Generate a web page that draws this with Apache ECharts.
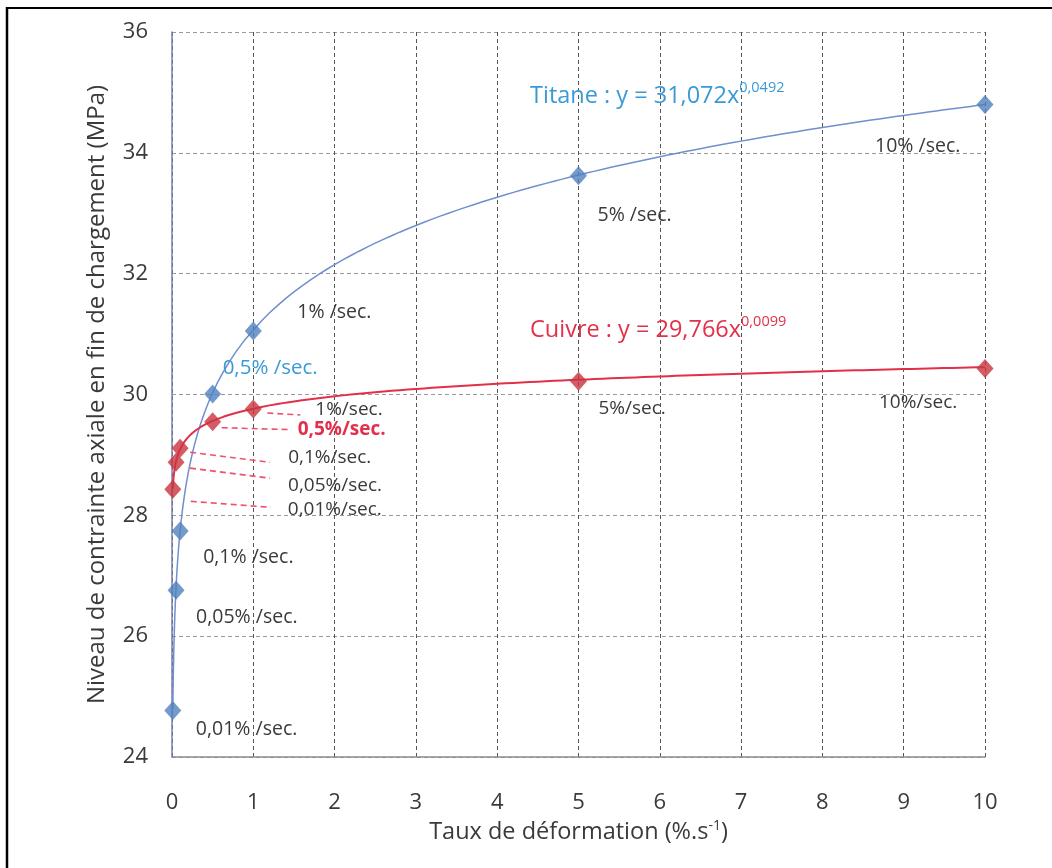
<!DOCTYPE html>
<html>
<head>
<meta charset="utf-8">
<script src="https://cdn.jsdelivr.net/npm/echarts@6/dist/echarts.min.js"></script>
<style>
  html, body { margin: 0; padding: 0; background: #ffffff; }
  #chart { width: 1052px; height: 868px; }
</style>
</head>
<body>
<div id="chart"></div>
<script>
// Strain rates tested (%/s) and end-of-loading axial stress (MPa)
const rates = [0.01, 0.05, 0.1, 0.5, 1, 5, 10];
const titaneStress = [24.77, 26.76, 27.74, 30.01, 31.05, 33.62, 34.80];
const cuivreStress = [28.43, 28.88, 29.11, 29.55, 29.76, 30.22, 30.43];

// Point annotations
const titaneLabels = ['0,01% /sec.', '0,05% /sec.', '0,1% /sec.', '0,5% /sec.', '1% /sec.', '5% /sec.', '10% /sec.'];
const cuivreLabels = ['0,01%/sec.', '0,05%/sec.', '0,1%/sec.', '0,5%/sec.', '1%/sec.', '5%/sec.', '10%/sec.'];

// Power-law fits y = a * x^b
const titaneFit = [31.072, 0.0492];
const cuivreFit = [29.766, 0.0099];

// Axis ticks
const xTicks = [0, 1, 2, 3, 4, 5, 6, 7, 8, 9, 10];
const yTicks = [24, 26, 28, 30, 32, 34, 36];

// Label placement (pixels from the marker: left edge dx, vertical centre dy)
const titaneLabelOffsets = [[23, 19], [20, 27], [23, 26], [10, -26], [44, -19], [19, 40], [-110, 42]];
const cuivreLabelOffsets = [[115, 20], [112, 23], [108, 9], [85, 8], [62, 1], [20, 27], [-106, 34]];
// Dashed leader lines for the crowded copper points: [start dx, dy, end dx, dy]
const cuivreLeaders = [[18, 12, 98, 18], [14, 6, 94, 16], [10, 4, 90, 14], [9, 6, 79, 8], [14, 4, 47, 6]];

const FONT = '"Open Sans", Lato, "DejaVu Sans", sans-serif';
const TEXT = '#3a3a3a';
const BLUE = '#4f81bd';
const BLUE_LINE = '#6f8fcf';
const RED = '#c9353f';
const RED_LINE = '#e2304a';
const EQ_BLUE = '#3a9ad8';

const fmt = v => String(v).replace('.', ',');

function fitCurve(fit) {
  const pts = [];
  const a = fit[0], b = fit[1];
  const xs = [];
  for (let e = -2; e <= 0; e += 0.05) xs.push(Math.pow(10, e));
  for (let x = 1.1; x <= 10.0001; x += 0.1) xs.push(x);
  xs.forEach(x => pts.push([x, a * Math.pow(x, b)]));
  return pts;
}

const chart = echarts.init(document.getElementById('chart'), null, { renderer: 'canvas' });

const option = {
  animation: false,
  backgroundColor: '#ffffff',
  grid: { left: 172, top: 32, right: 67, bottom: 111, containLabel: false },
  xAxis: {
    type: 'value',
    min: xTicks[0], max: xTicks[xTicks.length - 1], interval: 1,
    name: 'Taux de déformation (%.s{sup|-1})',
    nameLocation: 'middle',
    nameGap: 61,
    nameTextStyle: {
      fontFamily: FONT, fontSize: 23.5, color: TEXT,
      rich: { sup: { fontFamily: FONT, fontSize: 14, color: TEXT, padding: [0, 0, 13, 0] } }
    },
    axisLine: { show: true, lineStyle: { color: '#8c8c8c', width: 1.5 } },
    axisTick: { show: false },
    axisLabel: { fontFamily: FONT, fontSize: 22, color: TEXT, margin: 35 },
    splitLine: { show: true, lineStyle: { color: '#555555', type: [4, 3], width: 1 } }
  },
  yAxis: {
    type: 'value',
    min: yTicks[0], max: yTicks[yTicks.length - 1], interval: 2,
    name: 'Niveau de contrainte axiale en fin de chargement (MPa)',
    nameLocation: 'middle',
    nameGap: 63,
    nameTextStyle: { fontFamily: FONT, fontSize: 24, color: TEXT },
    axisLine: { show: true, lineStyle: { color: '#7a7fa8', width: 1.5 } },
    axisTick: { show: false },
    axisLabel: { fontFamily: FONT, fontSize: 22, color: TEXT, margin: 24 },
    splitLine: { show: true, lineStyle: { color: '#9a9a9a', type: [4, 3], width: 1 } }
  },
  series: [
    {
      name: 'Titane (courbe)', type: 'line', data: fitCurve(titaneFit),
      showSymbol: false, smooth: false, z: 2,
      lineStyle: { color: BLUE_LINE, width: 1.5 }
    },
    {
      name: 'Cuivre (courbe)', type: 'line', data: fitCurve(cuivreFit),
      showSymbol: false, smooth: false, z: 2,
      lineStyle: { color: RED_LINE, width: 2 }
    },
    {
      name: 'Titane', type: 'scatter', z: 4,
      data: rates.map((r, i) => [r, titaneStress[i]]),
      symbol: 'diamond', symbolSize: [17, 19],
      itemStyle: { color: BLUE }
    },
    {
      name: 'Cuivre', type: 'scatter', z: 4,
      data: rates.map((r, i) => [r, cuivreStress[i]]),
      symbol: 'diamond', symbolSize: [17, 19],
      itemStyle: { color: RED }
    }
  ]
};

chart.setOption(option);

// Annotations placed from the markers' pixel positions
function buildAnnotations() {
  const els = [];
  // page frame
  els.push({ type: 'line', shape: { x1: 7, y1: 8, x2: 1052, y2: 8 }, style: { stroke: '#000', lineWidth: 2 }, z: 10 });
  els.push({ type: 'line', shape: { x1: 7, y1: 7, x2: 7, y2: 868 }, style: { stroke: '#000', lineWidth: 2.5 }, z: 10 });

  rates.forEach((r, i) => {
    const p = chart.convertToPixel({ gridIndex: 0 }, [r, titaneStress[i]]);
    const o = titaneLabelOffsets[i];
    const isHalf = i === 3;
    els.push({
      type: 'text', x: p[0] + o[0], y: p[1] + o[1], z: 6,
      style: {
        text: titaneLabels[i], fontFamily: FONT, fontSize: isHalf ? 20.5 : 19.5,
        fill: isHalf ? EQ_BLUE : TEXT, verticalAlign: 'middle', align: 'left'
      }
    });
  });

  rates.forEach((r, i) => {
    const p = chart.convertToPixel({ gridIndex: 0 }, [r, cuivreStress[i]]);
    const o = cuivreLabelOffsets[i];
    const isHalf = i === 3;
    if (i < cuivreLeaders.length) {
      const l = cuivreLeaders[i];
      els.push({
        type: 'line', z: 3,
        shape: { x1: p[0] + l[0], y1: p[1] + l[1], x2: p[0] + l[2], y2: p[1] + l[3] },
        style: { stroke: '#f0506e', lineWidth: 1.6, lineDash: [6, 4] }
      });
    }
    els.push({
      type: 'text', x: p[0] + o[0], y: p[1] + o[1], z: 6,
      style: {
        text: cuivreLabels[i], fontFamily: FONT, fontSize: 19,
        fontWeight: isHalf ? 'bold' : 'normal',
        fill: isHalf ? RED_LINE : TEXT, verticalAlign: 'middle', align: 'left'
      }
    });
  });

  // fit equations
  const eq = (name, fit, color, x, y) => ({
    type: 'text', x: x, y: y, z: 6,
    style: {
      text: '{m|' + name + ' : y = ' + fmt(fit[0]) + 'x}{s|' + fmt(fit[1]) + '}',
      verticalAlign: 'middle', align: 'left',
      rich: {
        m: { fontFamily: FONT, fontSize: 23.5, fill: color, color: color },
        s: { fontFamily: FONT, fontSize: 14.5, fill: color, color: color, padding: [0, 0, 17, 0] }
      }
    }
  });
  els.push(eq('Titane', titaneFit, EQ_BLUE, 530, 96));
  els.push(eq('Cuivre', cuivreFit, RED_LINE, 530, 330));

  chart.setOption({ graphic: { elements: els } });
}

buildAnnotations();
</script>
</body>
</html>
